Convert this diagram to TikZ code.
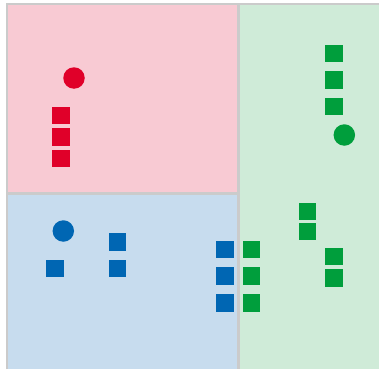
\documentclass[tikz,border=0pt]{standalone}
\usepackage{tikz}
\usepackage{xcolor}

\definecolor{redpt}{HTML}{E00029}
\definecolor{greenpt}{HTML}{009E3C}
\definecolor{bluept}{HTML}{0066B3}
\definecolor{pinkbg}{HTML}{F8CAD3}
\definecolor{greenbg}{HTML}{CFEBD8}
\definecolor{bluebg}{HTML}{C7DCEE}
\definecolor{rule}{HTML}{CBCBCB}

\begin{document}
\begin{tikzpicture}[x=1pt,y=-1pt,
  sq/.style={rectangle,fill=#1,minimum size=17.5pt,inner sep=0pt},
  dot/.style={circle,fill=#1,minimum size=21.5pt,inner sep=0pt}]
  \useasboundingbox (0,0) rectangle (379,369);
  \fill[pinkbg] (7,4) rectangle (238,193.5);
  \fill[bluebg] (7,193.5) rectangle (238,369);
  \fill[greenbg] (238,4) rectangle (379,369);
  \draw[rule,line width=2pt] (7,369) -- (7,4) -- (379,4);
  \draw[rule,line width=3pt] (238,4) -- (238,369);
  \draw[rule,line width=2.5pt] (7,193.5) -- (238,193.5);
  % red
  \node[dot=redpt] (rc) at (74,78) {};
  \foreach \y [count=\i] in {115.5,137,158.5} {\node[sq=redpt] (r\i) at (61,\y) {};}
  % green, top
  \foreach \y [count=\i] in {53.7,80,106.5} {\node[sq=greenpt] (ga\i) at (334,\y) {};}
  \node[dot=greenpt] (gc) at (344.3,135) {};
  % blue
  \node[dot=bluept] (bc) at (63.3,231) {};
  \node[sq=bluept] (b0) at (55,268.7) {};
  \foreach \y [count=\i] in {242.2,268.7} {\node[sq=bluept] (bb\i) at (117.7,\y) {};}
  \foreach \y [count=\i] in {249.5,276.2,302.8} {
    \node[sq=bluept] (bc\i) at (224.8,\y) {};
    \node[sq=greenpt] (gb\i) at (251.5,\y) {};}
  % green, bottom
  \foreach \y [count=\i] in {211.7,231.5} {\node[sq=greenpt] (gc\i) at (307.5,\y) {};}
  \foreach \y [count=\i] in {256.5,278.2} {\node[sq=greenpt] (gd\i) at (333.8,\y) {};}
\end{tikzpicture}
\end{document}
